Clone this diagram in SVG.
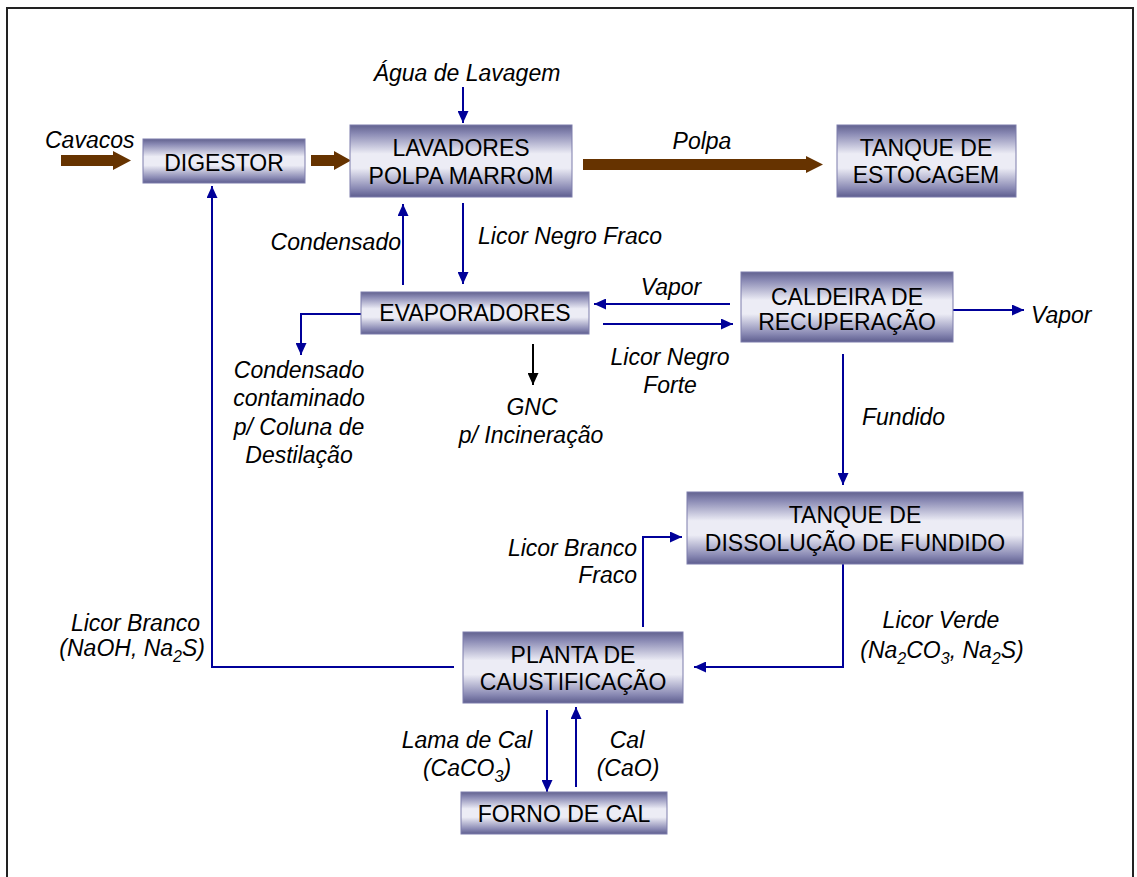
<svg xmlns="http://www.w3.org/2000/svg" width="1137" height="877" viewBox="0 0 1137 877">
<defs>
<linearGradient id="boxg" x1="0" y1="0" x2="0" y2="1">
<stop offset="0" stop-color="#62628f"/>
<stop offset="0.12" stop-color="#8a8ab4"/>
<stop offset="0.4" stop-color="#ececf5"/>
<stop offset="0.6" stop-color="#ececf5"/>
<stop offset="0.88" stop-color="#8a8ab4"/>
<stop offset="1" stop-color="#5e5e8f"/>
</linearGradient>
<marker id="ab" markerUnits="userSpaceOnUse" markerWidth="12" markerHeight="11" refX="12" refY="5.5" orient="auto">
<path d="M0,0 L12,5.5 L0,11 z" fill="#000099"/>
</marker>
<marker id="ak" markerUnits="userSpaceOnUse" markerWidth="12" markerHeight="11" refX="12" refY="5.5" orient="auto">
<path d="M0,0 L12,5.5 L0,11 z" fill="#000000"/>
</marker>
<style>
.box{fill:url(#boxg);stroke:#7c7cab;stroke-width:1}
.edge{fill:none;stroke:#55557f;stroke-width:1;opacity:0.6}
.nt{font-family:"Liberation Sans",Arial,sans-serif;font-size:23px;fill:#000;text-anchor:middle}
.lb{font-family:"Liberation Sans",Arial,sans-serif;font-size:23px;font-style:italic;fill:#000}
.c{fill:none;stroke:#000099;stroke-width:2;marker-end:url(#ab)}
.cn{fill:none;stroke:#000099;stroke-width:2}
.ck{fill:none;stroke:#000;stroke-width:2;marker-end:url(#ak)}
.br{fill:#663300}
.mid{text-anchor:middle}
.end{text-anchor:end}
</style>
</defs>
<rect x="7" y="8" width="1126" height="900" fill="#fff" stroke="#222" stroke-width="2"/>

<g id="connectors">
<polygon class="br" points="61,155 113,155 113,151 131,160.5 113,170 113,166 61,166"/>
<polygon class="br" points="311,155 334,155 334,151 351,160.5 334,170 334,166 311,166"/>
<polygon class="br" points="583,159 806,159 806,156 823,164.5 806,173 806,170 583,170"/>
<line class="c" x1="463" y1="87" x2="463" y2="123"/>
<line class="c" x1="403" y1="285" x2="403" y2="204"/>
<line class="c" x1="463" y1="203" x2="463" y2="284"/>
<polyline class="c" points="361,314 301,314 301,355"/>
<line class="c" x1="730" y1="304" x2="594" y2="304"/>
<line class="c" x1="603" y1="324" x2="733" y2="324"/>
<line class="c" x1="953" y1="310" x2="1024" y2="310"/>
<line class="ck" x1="533" y1="344" x2="533" y2="385"/>
<line class="c" x1="843" y1="354" x2="843" y2="485"/>
<polyline class="c" points="843,564 843,667 694,667"/>
<polyline class="c" points="643,627 643,537 682,537"/>
<polyline class="c" points="454,667 212,667 212,186"/>
<line class="c" x1="547" y1="710" x2="547" y2="792"/>
<line class="c" x1="576" y1="787" x2="576" y2="707"/>
</g>

<g id="labels">
<text class="lb" x="45" y="148">Cavacos</text>
<text class="lb mid" x="467" y="81">Água de Lavagem</text>
<text class="lb mid" x="702" y="149">Polpa</text>
<text class="lb end" x="401" y="250">Condensado</text>
<text class="lb" x="478" y="244">Licor Negro Fraco</text>
<text class="lb mid" x="671" y="295">Vapor</text>
<text class="lb mid" x="670" y="365">Licor Negro</text>
<text class="lb mid" x="670" y="393">Forte</text>
<text class="lb" x="1031" y="323">Vapor</text>
<text class="lb mid" x="299" y="378">Condensado</text>
<text class="lb mid" x="299" y="406">contaminado</text>
<text class="lb mid" x="299" y="435">p/ Coluna de</text>
<text class="lb mid" x="299" y="463">Destilação</text>
<text class="lb mid" x="532" y="415">GNC</text>
<text class="lb mid" x="531" y="443">p/ Incineração</text>
<text class="lb" x="862" y="425">Fundido</text>
<text class="lb end" x="637" y="556">Licor Branco</text>
<text class="lb end" x="637" y="583">Fraco</text>
<text class="lb mid" x="941" y="628">Licor Verde</text>
<text class="lb mid" x="942" y="658">(Na<tspan dy="6" font-size="16">2</tspan><tspan dy="-6">CO</tspan><tspan dy="6" font-size="16">3</tspan><tspan dy="-6">, Na</tspan><tspan dy="6" font-size="16">2</tspan><tspan dy="-6">S)</tspan></text>
<text class="lb end" x="200" y="631">Licor Branco</text>
<text class="lb end" x="205" y="656">(NaOH, Na<tspan dy="6" font-size="16">2</tspan><tspan dy="-6">S)</tspan></text>
<text class="lb mid" x="467" y="748">Lama de Cal</text>
<text class="lb mid" x="467" y="776">(CaCO<tspan dy="6" font-size="16">3</tspan><tspan dy="-6">)</tspan></text>
<text class="lb mid" x="627" y="748">Cal</text>
<text class="lb mid" x="628" y="776">(CaO)</text>
</g>

<g id="digestor">
<rect class="box" x="143" y="139" width="162" height="44"/>
<text class="nt" x="224" y="171">DIGESTOR</text>
</g>
<g id="lavadores">
<rect class="box" x="350" y="125" width="222" height="72"/>
<text class="nt" x="461" y="156">LAVADORES</text>
<text class="nt" x="461" y="184">POLPA MARROM</text>
</g>
<g id="tanque-estocagem">
<rect class="box" x="837" y="125" width="179" height="72"/>
<text class="nt" x="926" y="156">TANQUE DE</text>
<text class="nt" x="926" y="183">ESTOCAGEM</text>
</g>
<g id="evaporadores">
<rect class="box" x="361" y="292" width="228" height="42"/>
<text class="nt" x="475" y="321">EVAPORADORES</text>
</g>
<g id="caldeira">
<rect class="box" x="741" y="272" width="212" height="70"/>
<text class="nt" x="847" y="305">CALDEIRA DE</text>
<text class="nt" x="847" y="330">RECUPERAÇÃO</text>
</g>
<g id="tanque-dissolucao">
<rect class="box" x="687" y="492" width="336" height="72"/>
<text class="nt" x="855" y="523">TANQUE DE</text>
<text class="nt" x="855" y="551">DISSOLUÇÃO DE FUNDIDO</text>
</g>
<g id="planta">
<rect class="box" x="463" y="632" width="220" height="71"/>
<text class="nt" x="573" y="663">PLANTA DE</text>
<text class="nt" x="573" y="690">CAUSTIFICAÇÃO</text>
</g>
<g id="forno">
<rect class="box" x="461" y="792" width="206" height="42"/>
<text class="nt" x="564" y="822">FORNO DE CAL</text>
</g>
</svg>
